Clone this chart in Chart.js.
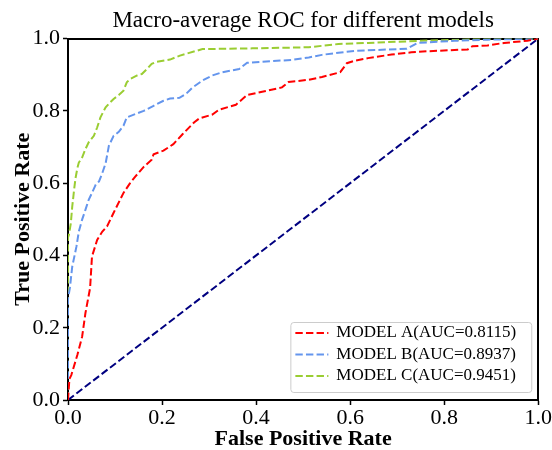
<!DOCTYPE html>
<html>
<head>
<meta charset="utf-8">
<script src="https://cdn.jsdelivr.net/npm/chart.js@4/dist/chart.umd.min.js"></script>
<style>
  html, body { margin: 0; padding: 0; background: #ffffff; }
  canvas { display: block; }
</style>
</head>
<body>
<canvas id="roc" width="552" height="450"></canvas>
<script>
// Axis ticks shared by both axes
const axisTicks = [0.0, 0.2, 0.4, 0.6, 0.8, 1.0];

// Legend labels and line colours
const modelLabels = ['MODEL A(AUC=0.8115)', 'MODEL B(AUC=0.8937)', 'MODEL C(AUC=0.9451)'];
const modelColors = ['#ff0000', '#6495ed', '#9acd32'];

// Model A: false positive rate / true positive rate
const fprA = [0, 0.003, 0.007, 0.020, 0.030, 0.037, 0.047, 0.051, 0.062, 0.073, 0.083, 0.097, 0.118, 0.132, 0.143, 0.161, 0.178, 0.182, 0.203, 0.224, 0.244, 0.268, 0.279, 0.307, 0.321, 0.357, 0.381, 0.413, 0.455, 0.469, 0.512, 0.540, 0.579, 0.593, 0.610, 0.638, 0.688, 0.730, 0.765, 0.850, 0.860, 0.892, 0.927, 0.977, 1.0];
const tprA = [0, 0.058, 0.069, 0.125, 0.175, 0.240, 0.310, 0.397, 0.443, 0.466, 0.480, 0.518, 0.573, 0.600, 0.618, 0.645, 0.665, 0.680, 0.690, 0.708, 0.736, 0.768, 0.779, 0.790, 0.803, 0.817, 0.844, 0.853, 0.865, 0.880, 0.886, 0.894, 0.907, 0.932, 0.939, 0.946, 0.956, 0.962, 0.965, 0.970, 0.979, 0.981, 0.988, 0.994, 1.0];

// Model B
const fprB = [0, 0, 0.004, 0.009, 0.018, 0.023, 0.030, 0.037, 0.044, 0.051, 0.059, 0.066, 0.073, 0.080, 0.087, 0.097, 0.108, 0.118, 0.125, 0.143, 0.161, 0.182, 0.203, 0.217, 0.237, 0.251, 0.265, 0.286, 0.307, 0.328, 0.364, 0.381, 0.413, 0.476, 0.512, 0.540, 0.575, 0.610, 0.720, 0.744, 0.822, 0.892, 1.0];
const tprB = [0, 0.280, 0.310, 0.369, 0.425, 0.466, 0.499, 0.526, 0.554, 0.573, 0.596, 0.605, 0.628, 0.655, 0.704, 0.731, 0.742, 0.759, 0.782, 0.791, 0.800, 0.814, 0.828, 0.834, 0.836, 0.847, 0.865, 0.884, 0.898, 0.907, 0.916, 0.933, 0.936, 0.941, 0.948, 0.955, 0.961, 0.966, 0.972, 0.988, 0.994, 0.997, 1.0];

// Model C
const fprC = [0, 0, 0.002, 0.006, 0.009, 0.013, 0.016, 0.020, 0.023, 0.030, 0.037, 0.044, 0.055, 0.062, 0.069, 0.080, 0.090, 0.097, 0.108, 0.118, 0.125, 0.132, 0.147, 0.157, 0.168, 0.178, 0.189, 0.217, 0.238, 0.251, 0.286, 0.392, 0.512, 0.575, 0.638, 0.751, 0.836, 0.870, 1.0];
const tprC = [0, 0.450, 0.457, 0.489, 0.535, 0.582, 0.614, 0.642, 0.657, 0.671, 0.694, 0.713, 0.731, 0.754, 0.782, 0.810, 0.824, 0.833, 0.844, 0.856, 0.879, 0.888, 0.898, 0.902, 0.916, 0.930, 0.936, 0.942, 0.953, 0.958, 0.971, 0.973, 0.976, 0.985, 0.988, 0.994, 0.997, 1.0, 1.0];

// Chance diagonal
const chanceFpr = [0, 1];
const chanceTpr = [0, 1];

const SERIF = '"Liberation Serif", "Times New Roman", Times, serif';
const DASH = [7.4, 3.2];

function toPoints(xs, ys) {
  return xs.map((x, i) => ({ x: x, y: ys[i] }));
}

// Legend drawn inside the plot, lower-right corner
const insideLegend = {
  id: 'insideLegend',
  afterDraw(chart) {
    const { ctx, chartArea } = chart;
    const items = chart.data.datasets.filter(d => d.label);
    ctx.save();
    ctx.font = '17px ' + SERIF;
    const textW = Math.max(...items.map(d => ctx.measureText(d.label).width));
    const w = 46 + textW + 15;
    const h = 70;
    const x = chartArea.right - 7 - w;
    const y = chartArea.bottom - 8 - h;
    ctx.beginPath();
    ctx.roundRect(x + 0.5, y + 0.5, w, h, 3);
    ctx.fillStyle = 'rgba(255,255,255,0.8)';
    ctx.fill();
    ctx.strokeStyle = '#cccccc';
    ctx.lineWidth = 1;
    ctx.stroke();
    items.forEach((d, i) => {
      const cy = y + 11 + i * 21.5;
      ctx.beginPath();
      ctx.setLineDash(d.borderDash);
      ctx.strokeStyle = d.borderColor;
      ctx.lineWidth = 2;
      ctx.moveTo(x + 5, cy);
      ctx.lineTo(x + 38, cy);
      ctx.stroke();
      ctx.setLineDash([]);
      ctx.fillStyle = '#000000';
      ctx.textBaseline = 'middle';
      ctx.textAlign = 'left';
      ctx.fillText(d.label, x + 46, cy);
    });
    ctx.restore();
  }
};

const curve = (label, color, xs, ys) => ({
  label: label,
  data: toPoints(xs, ys),
  borderColor: color,
  backgroundColor: color,
  borderWidth: 2,
  borderDash: DASH,
  pointRadius: 0,
  tension: 0,
  fill: false
});

const frameAxis = (position, axis) => ({
  type: 'linear',
  position: position,
  axis: axis,
  min: 0,
  max: 1,
  ticks: { display: false },
  grid: { display: true, drawOnChartArea: false, drawTicks: false },
  border: { display: true, color: '#000000', width: 2 },
  afterFit(scale) {
    if (axis === 'x') scale.height = 0; else scale.width = 0;
  }
});

new Chart(document.getElementById('roc'), {
  type: 'line',
  data: {
    datasets: [
      curve(modelLabels[0], modelColors[0], fprA, tprA),
      curve(modelLabels[1], modelColors[1], fprB, tprB),
      curve(modelLabels[2], modelColors[2], fprC, tprC),
      {
        label: '',
        data: toPoints(chanceFpr, chanceTpr),
        borderColor: '#000080',
        borderWidth: 2,
        borderDash: DASH,
        pointRadius: 0,
        fill: false
      }
    ]
  },
  options: {
    responsive: false,
    animation: false,
    devicePixelRatio: 1,
    layout: { padding: { left: 0, right: 11, top: 0, bottom: 0 } },
    plugins: {
      legend: { display: false },
      tooltip: { enabled: false },
      title: {
        display: true,
        fullSize: false,
        text: 'Macro-average ROC for different models',
        color: '#000000',
        font: { family: SERIF, size: 23, weight: 'normal', lineHeight: 1.2 },
        padding: { top: 7, bottom: 4 }
      }
    },
    scales: {
      x: {
        type: 'linear',
        position: 'bottom',
        min: 0,
        max: 1,
        afterBuildTicks(scale) { scale.ticks = axisTicks.map(v => ({ value: v })); },
        ticks: {
          color: '#000000',
          font: { family: SERIF, size: 22 },
          padding: 0,
          maxRotation: 0,
          callback: v => Number(v).toFixed(1)
        },
        grid: { display: true, drawOnChartArea: false, drawTicks: true, tickLength: 5, tickColor: '#000000', tickWidth: 1.5 },
        border: { display: true, color: '#000000', width: 2 },
        title: {
          display: true,
          text: 'False Positive Rate',
          color: '#000000',
          font: { family: SERIF, size: 22, weight: 'bold', lineHeight: 1 },
          padding: 0
        },
        afterFit(scale) { scale.height = 50; }
      },
      y: {
        type: 'linear',
        position: 'left',
        min: 0,
        max: 1,
        afterBuildTicks(scale) { scale.ticks = axisTicks.map(v => ({ value: v })); },
        ticks: {
          color: '#000000',
          font: { family: SERIF, size: 22 },
          padding: 3,
          callback: v => Number(v).toFixed(1)
        },
        grid: { display: true, drawOnChartArea: false, drawTicks: true, tickLength: 5, tickColor: '#000000', tickWidth: 1.5 },
        border: { display: true, color: '#000000', width: 2 },
        title: {
          display: true,
          text: 'True Positive Rate',
          color: '#000000',
          font: { family: SERIF, size: 22, weight: 'bold', lineHeight: 1 },
          padding: { top: 12, bottom: 0 }
        },
        afterFit(scale) { scale.width = 68; }
      },
      xTop: frameAxis('top', 'x'),
      yRight: frameAxis('right', 'y')
    }
  },
  plugins: [insideLegend]
});
</script>
</body>
</html>
